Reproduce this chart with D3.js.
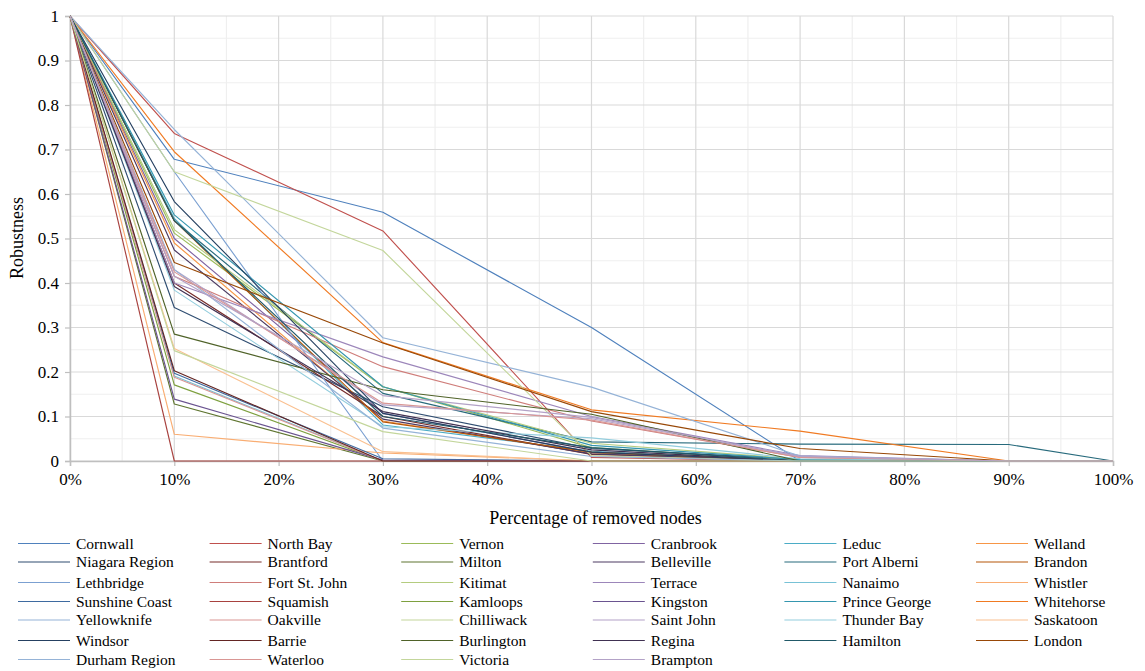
<!DOCTYPE html>
<html>
<head>
<meta charset="utf-8">
<script src="https://cdn.jsdelivr.net/npm/d3@7"></script>
<style>
  html, body { margin: 0; padding: 0; background: #fff; }
  svg { display: block; }
  svg text { font-family: "Liberation Serif", "Times New Roman", Times, "DejaVu Serif", serif !important; fill: #000; }
</style>
</head>
<body>
<svg id="chart" width="1145" height="671"></svg>
<script>
// ---- data ----
const xPercents = [0, 10, 30, 50, 70, 90, 100];
const xTicks = [0, 10, 20, 30, 40, 50, 60, 70, 80, 90, 100];
const yTicks = [0, 0.1, 0.2, 0.3, 0.4, 0.5, 0.6, 0.7, 0.8, 0.9, 1];

const seriesNames = [
  "Cornwall", "North Bay", "Vernon", "Cranbrook", "Leduc", "Welland",
  "Niagara Region", "Brantford", "Milton", "Belleville", "Port Alberni", "Brandon",
  "Lethbridge", "Fort St. John", "Kitimat", "Terrace", "Nanaimo", "Whistler",
  "Sunshine Coast", "Squamish", "Kamloops", "Kingston", "Prince George", "Whitehorse",
  "Yellowknife", "Oakville", "Chilliwack", "Saint John", "Thunder Bay", "Saskatoon",
  "Windsor", "Barrie", "Burlington", "Regina", "Hamilton", "London",
  "Durham Region", "Waterloo", "Victoria", "Brampton"
];

const seriesValues = [
  [1, 0.678, 0.559, 0.300, 0, 0, 0],
  [1, 0.736, 0.517, 0.008, 0, 0, 0],
  [1, 0.512, 0.167, 0.030, 0, 0, 0],
  [1, 0.500, 0.107, 0.020, 0, 0, 0],
  [1, 0.545, 0.081, 0.022, 0, 0, 0],
  [1, 0.490, 0.090, 0.018, 0, 0, 0],

  [1, 0.345, 0.122, 0.028, 0.004, 0, 0],
  [1, 0.400, 0.100, 0.015, 0, 0, 0],
  [1, 0.128, 0, 0, 0, 0, 0],
  [1, 0.474, 0.094, 0.016, 0, 0, 0],
  [1, 0.540, 0.152, 0.043, 0.038, 0.037, 0],
  [1, 0.540, 0.088, 0.020, 0, 0, 0],

  [1, 0.650, 0, 0, 0, 0, 0],
  [1, 0.415, 0.212, 0.090, 0.008, 0, 0],
  [1, 0.520, 0.167, 0.040, 0.004, 0, 0],
  [1, 0.400, 0.234, 0.100, 0.012, 0, 0],
  [1, 0.191, 0, 0, 0, 0, 0],
  [1, 0.060, 0.018, 0, 0, 0, 0],

  [1, 0.197, 0.005, 0, 0, 0, 0],
  [1, 0, 0, 0, 0, 0, 0],
  [1, 0.171, 0, 0, 0, 0, 0],
  [1, 0.139, 0.002, 0, 0, 0, 0],
  [1, 0.553, 0.167, 0.035, 0.003, 0, 0],
  [1, 0.695, 0.266, 0.115, 0.067, 0, 0],

  [1, 0.745, 0.277, 0.166, 0.011, 0, 0],
  [1, 0.188, 0, 0, 0, 0, 0],
  [1, 0.650, 0.473, 0.012, 0, 0, 0],
  [1, 0.430, 0.126, 0.095, 0.010, 0, 0],
  [1, 0.384, 0.077, 0.052, 0.005, 0, 0],
  [1, 0.253, 0.021, 0, 0, 0, 0],

  [1, 0.583, 0.107, 0.020, 0, 0, 0],
  [1, 0.203, 0, 0, 0, 0, 0],
  [1, 0.285, 0.160, 0.105, 0, 0, 0],
  [1, 0.392, 0.111, 0.025, 0, 0, 0],
  [1, 0.540, 0.100, 0.030, 0, 0, 0],
  [1, 0.446, 0.265, 0.111, 0.028, 0, 0],

  [1, 0.430, 0.074, 0.010, 0, 0, 0],
  [1, 0.425, 0.130, 0.092, 0.008, 0, 0],
  [1, 0.248, 0.066, 0, 0, 0, 0],
  [1, 0.415, 0.147, 0.098, 0.010, 0, 0]
];

const palette = [
  "#4F81BD", "#C0504D", "#9BBB59", "#8064A2", "#4BACC6", "#F79646",
  "#2F4D71", "#772C2A", "#5F7530", "#4D3B62", "#276A7C", "#B65708",
  "#7BA0D1", "#CF7D7A", "#B4CC7F", "#9C86BA", "#78C2D6", "#F9AD72",
  "#3E6AA0", "#A8423F", "#7EA03F", "#6A5390", "#3596AF", "#F07A22",
  "#95B3D7", "#D99694", "#C3D69B", "#B3A2C7", "#93CDDD", "#FAC090",
  "#254061", "#632523", "#4F6228", "#403152", "#215968", "#984807",
  "#95B3D7", "#D99694", "#C3D69B", "#B3A2C7"
];

// ---- layout ----
const FONT = '"Liberation Serif", "Times New Roman", Times, "DejaVu Serif", serif';
const svg = d3.select("#chart");
const pLeft = 70, pRight = 1113, pTop = 16, pBottom = 461;

const x = d3.scaleLinear().domain([0, 100]).range([pLeft, pRight]);
const y = d3.scaleLinear().domain([0, 1]).range([pBottom, pTop]);

const grid = svg.append("g");
// minor gridlines
d3.range(5, 100, 10).forEach(v => {
  grid.append("line").attr("x1", x(v)).attr("x2", x(v)).attr("y1", pTop).attr("y2", pBottom)
    .attr("stroke", "#efefef").attr("stroke-width", 1.2);
});
d3.range(0.05, 1, 0.1).forEach(v => {
  grid.append("line").attr("x1", pLeft).attr("x2", pRight).attr("y1", y(v)).attr("y2", y(v))
    .attr("stroke", "#efefef").attr("stroke-width", 1.2);
});
// major gridlines
xTicks.forEach(v => {
  grid.append("line").attr("x1", x(v)).attr("x2", x(v)).attr("y1", pTop).attr("y2", pBottom)
    .attr("stroke", "#d9d9d9").attr("stroke-width", 1.2);
});
yTicks.forEach(v => {
  grid.append("line").attr("x1", pLeft).attr("x2", pRight).attr("y1", y(v)).attr("y2", y(v))
    .attr("stroke", "#d9d9d9").attr("stroke-width", 1.2);
});

// axes
const yAxis = d3.axisLeft(y).tickValues(yTicks).tickFormat(d3.format("~g")).tickSize(5).tickPadding(6);
const gy = svg.append("g").attr("transform", `translate(${pLeft},0)`).call(yAxis)
  .attr("font-family", FONT).attr("font-size", 17);
gy.select(".domain").attr("stroke", "#bfbfbf").attr("stroke-width", 1.5);
gy.selectAll(".tick line").attr("stroke", "#bfbfbf").attr("stroke-width", 1.2);

const xAxis = d3.axisBottom(x).tickValues(xTicks).tickFormat(d => d + "%").tickSize(5).tickPadding(7);
const gx = svg.append("g").attr("transform", `translate(0,${pBottom})`).call(xAxis)
  .attr("font-family", FONT).attr("font-size", 17);
gx.select(".domain").attr("stroke", "#bfbfbf").attr("stroke-width", 1.5);
gx.selectAll(".tick line").attr("stroke", "#bfbfbf").attr("stroke-width", 1.2);

// axis titles
svg.append("text").attr("x", (pLeft + pRight) / 2 + 4).attr("y", 524)
  .attr("text-anchor", "middle").attr("font-family", FONT).attr("font-size", 18)
  .text("Percentage of removed nodes");
svg.append("text").attr("transform", "translate(23,238) rotate(-90)")
  .attr("text-anchor", "middle").attr("font-family", FONT).attr("font-size", 18)
  .text("Robustness");

// series lines
const line = d3.line().x((d, i) => x(xPercents[i])).y(d => y(d));
const plot = svg.append("g");
seriesValues.forEach((vals, i) => {
  plot.append("path").datum(vals).attr("d", line)
    .attr("fill", "none").attr("stroke", palette[i]).attr("stroke-width", 1.15)
    .attr("stroke-linejoin", "round");
});

// legend
const legend = svg.append("g").attr("font-family", FONT).attr("font-size", 15.5);
seriesNames.forEach((name, i) => {
  const col = i % 6, row = Math.floor(i / 6);
  const lx = 18 + col * 191.6;
  const ly = Math.round(543 + 19.33 * row) + (row % 3 === 1 ? 0 : 0.5);
  legend.append("line").attr("x1", lx).attr("x2", lx + 52).attr("y1", ly).attr("y2", ly)
    .attr("stroke", palette[i]).attr("stroke-width", 1.15);
  legend.append("text").attr("x", lx + 58).attr("y", ly).attr("dy", "0.35em")
    .text(name);
});
</script>
</body>
</html>
